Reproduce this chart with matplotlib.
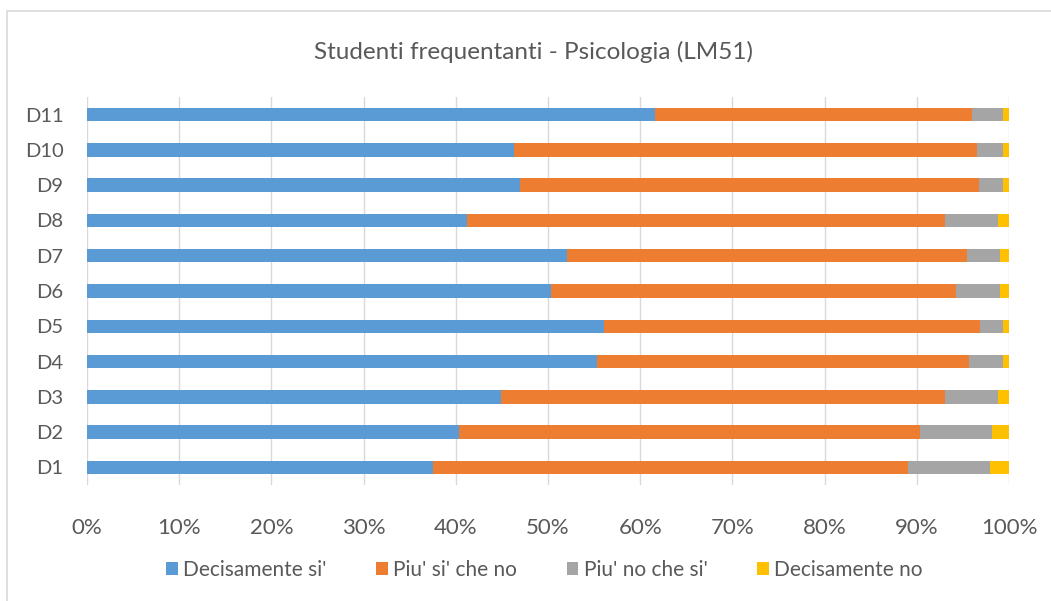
import numpy as np
import matplotlib
matplotlib.use("Agg")
import matplotlib.pyplot as plt
from matplotlib.patches import Rectangle

plt.rcParams["font.family"] = ["Lato", "DejaVu Sans"]

# Domande D1..D11, percentuali per risposta
domande = ["D1", "D2", "D3", "D4", "D5", "D6", "D7", "D8", "D9", "D10", "D11"]
decisamente_si = [37.5, 40.3, 44.9, 55.3, 56.1, 50.3, 52.1, 41.2, 47.0, 46.3, 61.6]
piu_si_che_no = [51.5, 50.0, 48.2, 40.4, 40.8, 43.9, 43.3, 51.9, 49.8, 50.2, 34.4]
piu_no_che_si = [8.9, 7.9, 5.7, 3.7, 2.5, 4.8, 3.6, 5.7, 2.6, 2.9, 3.4]
decisamente_no = [2.1, 1.8, 1.2, 0.6, 0.6, 1.0, 1.0, 1.2, 0.6, 0.6, 0.6]

serie = [
    ("Decisamente si'", decisamente_si, "#5B9BD5"),
    ("Piu' si' che no", piu_si_che_no, "#ED7D31"),
    ("Piu' no che si'", piu_no_che_si, "#A5A5A5"),
    ("Decisamente no", decisamente_no, "#FFC000"),
]

fig = plt.figure(figsize=(10.51, 6.01), dpi=100)
# cornice del grafico (aperta a destra e in basso)
fig.patches.append(Rectangle((7 / 1051, -0.05), 1.1, 1 - 11 / 601 + 0.05,
                             transform=fig.transFigure, fill=False,
                             edgecolor="#D9D9D9", linewidth=1.2))

ax = fig.add_axes([87 / 1051, 1 - 485 / 601, 922 / 1051, 388 / 601])

y = np.arange(len(domande))
left = np.zeros(len(domande))
for nome, valori, colore in serie:
    ax.barh(y, valori, left=left, height=0.38, color=colore, label=nome,
            zorder=3)
    left += np.array(valori)

ax.set_xlim(0, 100)
ax.set_ylim(-0.5, len(domande) - 0.5)
ax.set_xticks(np.arange(0, 101, 10))
ax.set_xticklabels([f"{v}%" for v in range(0, 101, 10)])
ax.set_yticks(y)
ax.set_yticklabels(domande)
ax.tick_params(axis="both", length=0, colors="#595959")
ax.tick_params(axis="x", pad=24, labelsize=16)
ax.tick_params(axis="y", pad=17, labelsize=14.5)
ax.grid(axis="x", color="#D9D9D9", linewidth=1, zorder=0)
for lato in ["top", "right", "bottom", "left"]:
    ax.spines[lato].set_visible(False)

fig.text(0.508, 1 - 52 / 601, "Studenti frequentanti - Psicologia (LM51)",
         ha="center", va="center", fontsize=17.5, color="#595959")

fig.legend(loc="center", bbox_to_anchor=(0.518, 1 - 570 / 601), ncol=4,
           frameon=False, fontsize=15, handlelength=0.55, handleheight=0.55,
           handletextpad=0.25, columnspacing=2.4, labelcolor="#595959")

fig.savefig("out.png", dpi=100)
